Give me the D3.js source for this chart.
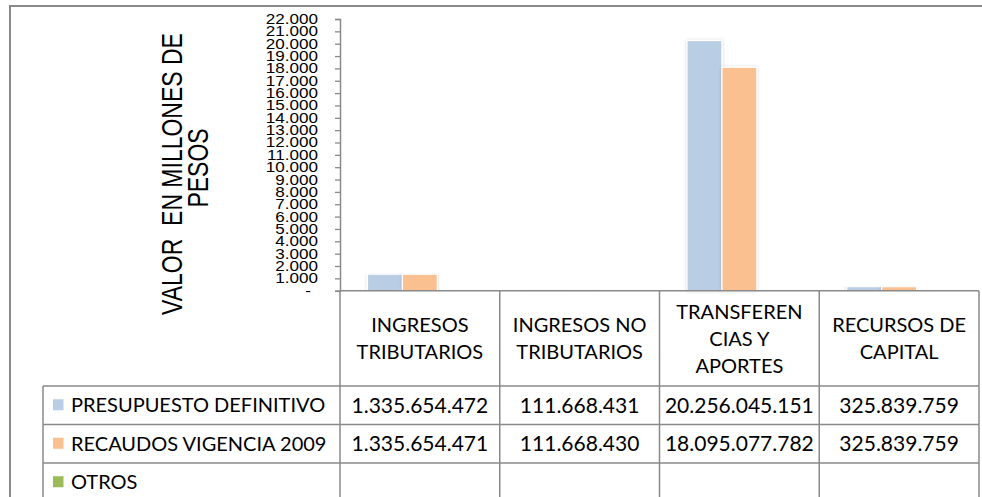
<!DOCTYPE html>
<html>
<head>
<meta charset="utf-8">
<script src="https://cdn.jsdelivr.net/npm/d3@7"></script>
<style>
  html, body { margin: 0; padding: 0; background: #fff; }
  svg { display: block; }
</style>
</head>
<body>
<svg id="chart" width="982" height="497"></svg>
<script>
// ---------------- DATA ----------------
const categories = [
  ["INGRESOS", "TRIBUTARIOS"],
  ["INGRESOS NO", "TRIBUTARIOS"],
  ["TRANSFEREN", "CIAS Y", "APORTES"],
  ["RECURSOS DE", "CAPITAL"]
];
const seriesNames = ["PRESUPUESTO DEFINITIVO", "RECAUDOS VIGENCIA 2009", "OTROS"];
const presupuesto = [1335654472, 111668431, 20256045151, 325839759];
const recaudos    = [1335654471, 111668430, 18095077782, 325839759];
const otros       = [null, null, null, null];
const seriesColors = ["#B9CDE5", "#FAC090", "#9BBB59"];
const yTickValues = [0, 1000, 2000, 3000, 4000, 5000, 6000, 7000, 8000, 9000, 10000,
  11000, 12000, 13000, 14000, 15000, 16000, 17000, 18000, 19000, 20000, 21000, 22000];
const yTitleLines = ["VALOR  EN MILLONES DE", "PESOS"];

// ---------------- LAYOUT ----------------
const svg = d3.select("#chart");
const plotL = 340, plotR = 979, plotT = 19, plotB = 290.7;
const tableTop = 386, rowH = 38.5;
const legendL = 43;
const lineColor = "#8a8a8a";
const tableFont = "Lato, 'Open Sans', sans-serif";
const axisFont = "'Liberation Sans', Arial, sans-serif";

const series = [presupuesto, recaudos, otros];
const fmtNum = d3.formatLocale({decimal: ",", thousands: ".", grouping: [3], currency: ["$", ""]}).format(",d");

const x0 = d3.scaleBand().domain(d3.range(categories.length)).range([plotL, plotR]).paddingInner(0).paddingOuter(0);
const x1 = d3.scaleBand().domain(d3.range(seriesNames.length)).range([0, x0.bandwidth()])
  .paddingInner(0).paddingOuter(0.786);
const y = d3.scaleLinear().domain([0, 22000]).range([plotB, plotT]);

// defs: soft shadow for bars
const defs = svg.append("defs");
const f = defs.append("filter").attr("id", "shadow").attr("x", "-20%").attr("y", "-5%").attr("width", "140%").attr("height", "110%");
f.append("feDropShadow").attr("dx", 0).attr("dy", 0).attr("stdDeviation", 1.6)
  .attr("flood-color", "#000").attr("flood-opacity", 0.2);

// outer chart border
svg.append("rect").attr("x", 10).attr("y", 6).attr("width", 1000).attr("height", 520)
  .attr("fill", "#fff").attr("stroke", lineColor).attr("stroke-width", 2);

// ---------------- BARS ----------------
const gBars = svg.append("g");
categories.forEach((c, ci) => {
  series.forEach((s, si) => {
    const v = s[ci];
    if (v == null) return;
    const vm = v / 1e6;
    gBars.append("rect")
      .attr("x", x0(ci) + x1(si))
      .attr("y", y(vm))
      .attr("width", x1.bandwidth())
      .attr("height", Math.max(0, y(0) - y(vm)))
      .attr("fill", seriesColors[si])
      .attr("stroke", "#fff").attr("stroke-width", 1.2)
      .attr("filter", "url(#shadow)");
  });
});

// ---------------- Y AXIS ----------------
const yAxis = d3.axisLeft(y).tickValues(yTickValues).tickSize(5).tickPadding(17)
  .tickFormat(d => d === 0 ? "-" : fmtNum(d));
const gY = svg.append("g").attr("transform", `translate(${plotL},0)`).call(yAxis);
gY.select(".domain").attr("stroke", lineColor).attr("stroke-width", 1.5);
gY.selectAll(".tick line").attr("stroke", lineColor).attr("stroke-width", 1.3);
gY.selectAll(".tick text")
  .attr("font-family", axisFont).attr("font-size", 14).attr("fill", "#000")
  .attr("x", 0)
  .attr("transform", d => `translate(${d === 0 ? -29 : -22},0) scale(1.22,1)`);

// horizontal axis line
svg.append("line").attr("x1", plotL).attr("x2", plotR).attr("y1", plotB).attr("y2", plotB)
  .attr("stroke", lineColor).attr("stroke-width", 1.5);

// ---------------- Y TITLE ----------------
const titleX = [182, 208];
const titleY = [174, 168];
yTitleLines.forEach((t, i) => {
  svg.append("text")
    .attr("transform", `translate(${titleX[i]},${titleY[i]}) scale(1.25,1) rotate(-90)`)
    .attr("text-anchor", "middle")
    .attr("font-family", axisFont).attr("font-size", 23)
    .attr("fill", "#000")
    .style("white-space", "pre")
    .text(t);
});

// ---------------- DATA TABLE ----------------
const gT = svg.append("g");
const tableBottom = 520;
const colEdges = d3.range(categories.length).map(i => x0(i)).concat([plotR]);
colEdges.forEach(xv => {
  gT.append("line").attr("x1", xv).attr("x2", xv).attr("y1", plotB).attr("y2", tableBottom)
    .attr("stroke", lineColor).attr("stroke-width", 1.5);
});
gT.append("line").attr("x1", legendL).attr("x2", legendL).attr("y1", tableTop).attr("y2", tableBottom)
  .attr("stroke", lineColor).attr("stroke-width", 1.5);
seriesNames.forEach((s, i) => {
  const yy = tableTop + i * rowH;
  gT.append("line").attr("x1", legendL).attr("x2", plotR).attr("y1", yy).attr("y2", yy)
    .attr("stroke", lineColor).attr("stroke-width", 1.5);
});

// header category labels
const lineGap = 27;
categories.forEach((lines, ci) => {
  const cx = x0(ci) + x0.bandwidth() / 2;
  const cy = (plotB + tableTop) / 2;
  lines.forEach((ln, li) => {
    gT.append("text")
      .attr("x", cx)
      .attr("y", cy + (li - (lines.length - 1) / 2) * lineGap)
      .attr("dy", "0.36em")
      .attr("text-anchor", "middle")
      .attr("font-family", tableFont).attr("font-size", 20)
      .attr("fill", "#000")
      .text(ln);
  });
});

// rows
seriesNames.forEach((name, si) => {
  const cy = tableTop + si * rowH + rowH / 2;
  gT.append("rect").attr("x", 53).attr("y", cy - 6).attr("width", 10.5).attr("height", 11)
    .attr("fill", seriesColors[si]);
  gT.append("text").attr("x", 71).attr("y", cy).attr("dy", "0.36em")
    .attr("font-family", tableFont).attr("font-size", 20).attr("fill", "#000")
    .text(name);
  series[si].forEach((v, ci) => {
    if (v == null) return;
    gT.append("text")
      .attr("x", x0(ci) + x0.bandwidth() / 2)
      .attr("y", cy).attr("dy", "0.36em")
      .attr("text-anchor", "middle")
      .attr("font-family", tableFont).attr("font-size", 21).attr("fill", "#000")
      .text(fmtNum(v));
  });
});
</script>
</body>
</html>
